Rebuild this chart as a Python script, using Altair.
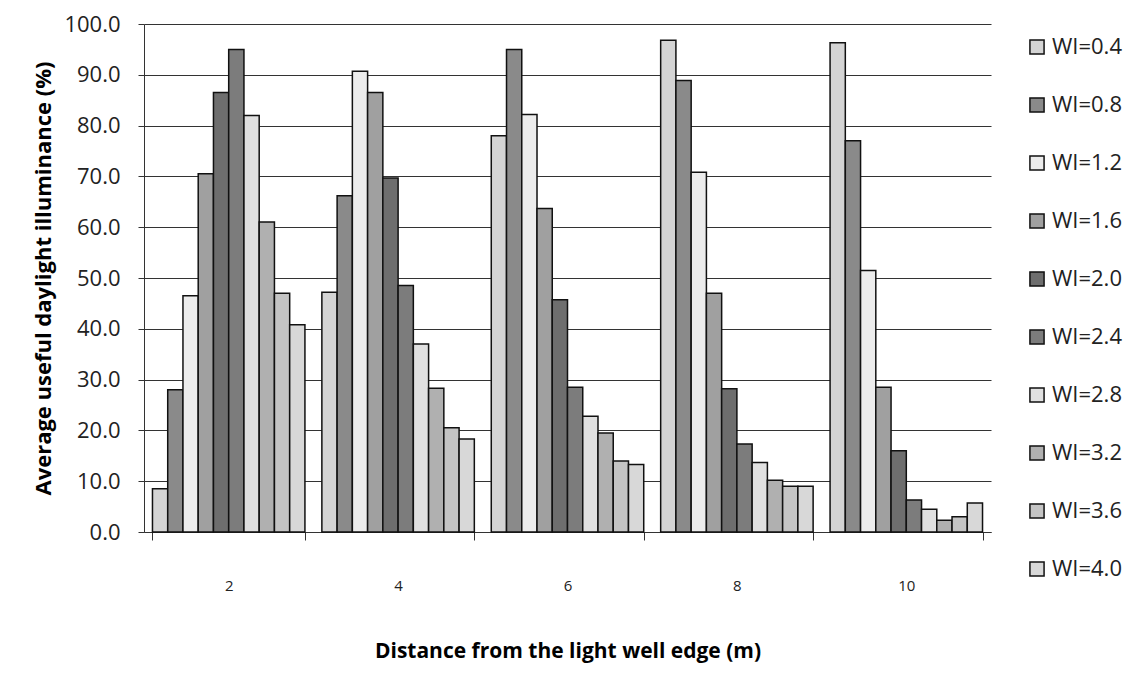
import altair as alt
import pandas as pd

distances = ["2", "4", "6", "8", "10"]
series = ["WI=0.4", "WI=0.8", "WI=1.2", "WI=1.6", "WI=2.0",
          "WI=2.4", "WI=2.8", "WI=3.2", "WI=3.6", "WI=4.0"]
values = {
    "2":  [8.5, 28.0, 46.5, 70.5, 86.5, 95.0, 82.0, 61.0, 47.0, 40.8],
    "4":  [47.2, 66.2, 90.7, 86.5, 69.7, 48.5, 37.0, 28.3, 20.5, 18.3],
    "6":  [78.0, 95.0, 82.2, 63.7, 45.7, 28.5, 22.8, 19.5, 14.0, 13.3],
    "8":  [96.8, 88.9, 70.8, 47.0, 28.2, 17.3, 13.7, 10.2, 9.0, 9.0],
    "10": [96.3, 77.0, 51.5, 28.5, 16.0, 6.3, 4.5, 2.3, 3.0, 5.7],
}
fills = ["#d4d4d4", "#8a8a8a", "#ececec", "#a0a0a0", "#6e6e6e",
         "#7c7c7c", "#e0e0e0", "#b0b0b0", "#c4c4c4", "#d8d8d8"]

rows = []
for d in distances:
    for s, v in zip(series, values[d]):
        rows.append({"distance": d, "series": s, "value": v})
df = pd.DataFrame(rows)

font = "Open Sans"

chart = alt.Chart(df).mark_bar(stroke="#111111", strokeWidth=1.5).encode(
    x=alt.X("distance:N", sort=distances,
            title="Distance from the light well edge (m)",
            scale=alt.Scale(paddingInner=0.1, paddingOuter=0.05),
            axis=alt.Axis(labelAngle=0, labelPadding=38, labelFontSize=15,
                          labelColor="#222", titleFontSize=21, titleFontWeight="bold",
                          titlePadding=47, ticks=True, tickBand="extent",
                          tickSize=8, domainColor="#333", tickColor="#333",
                          titleFont=font, labelFont=font)),
    xOffset=alt.XOffset("series:N", sort=series, scale=alt.Scale(paddingInner=0)),
    y=alt.Y("value:Q", title="Average useful daylight illuminance (%)",
            scale=alt.Scale(domain=[0, 100]),
            axis=alt.Axis(values=list(range(0, 101, 10)), format=".1f",
                          labelFontSize=22, labelColor="#222", labelPadding=18,
                          titleFontSize=22,
                          titleFontWeight="bold", titlePadding=8,
                          gridColor="#333", gridWidth=1.2, domainColor="#333",
                          tickColor="#333", tickSize=6,
                          titleFont=font, labelFont=font)),
    fill=alt.Fill("series:N", sort=series,
                  scale=alt.Scale(domain=series, range=fills),
                  legend=alt.Legend(title=None, labelFontSize=22, labelFont=font,
                                    symbolType="square", symbolSize=200,
                                    symbolStrokeColor="#111", symbolStrokeWidth=1.5,
                                    rowPadding=36, labelColor="#222",
                                    orient="none", legendX=882, legendY=12,
                                    padding=0)),
).properties(
    width=847, height=508,
    padding={"left": 24, "top": 5, "right": 5, "bottom": 5},
).configure_view(stroke=None).configure_axis(gridOpacity=1)

chart.save("out.html", embed_options={"renderer": "svg", "actions": False})
